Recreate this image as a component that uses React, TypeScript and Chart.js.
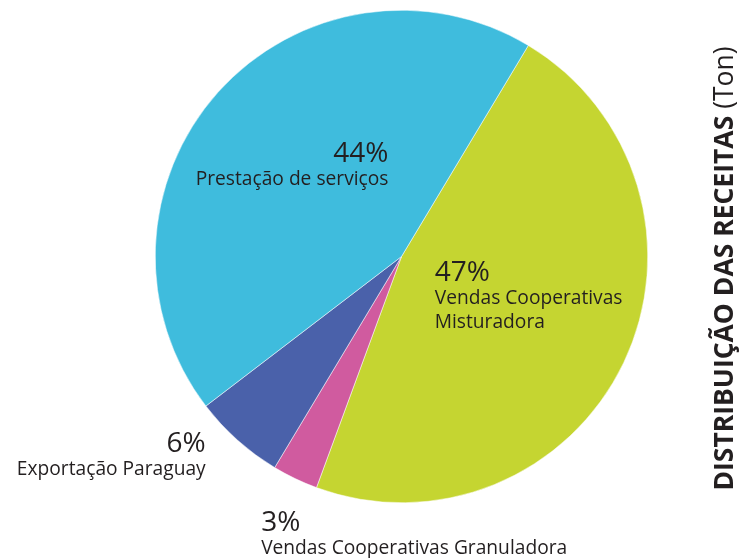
import React, { useEffect, useRef } from "react";
import { Chart, registerables } from "chart.js";

Chart.register(...registerables);

const categories = [
  "Vendas Cooperativas Misturadora",
  "Vendas Cooperativas Granuladora",
  "Exportação Paraguay",
  "Prestação de serviços",
];
const values = [47, 3, 6, 44];
const percentLabels = ["47%", "3%", "6%", "44%"];
const labelLines = [
  ["Vendas Cooperativas", "Misturadora"],
  ["Vendas Cooperativas Granuladora"],
  ["Exportação Paraguay"],
  ["Prestação de serviços"],
];
const colors = ["#C5D531", "#D05B9F", "#4A61AA", "#3FBCDD"];
const titleBold = "DISTRIBUIÇÃO DAS RECEITAS";
const titleRegular = " (Ton)";

// label anchors relative to pie centre, in units of radius: [dx, dy, align]
const labelAnchors: [number, number, CanvasTextAlign][] = [
  [0.135, 0.1, "left"],
  [-0.57, 1.115, "left"],
  [-0.795, 0.795, "right"],
  [-0.053, -0.382, "right"],
];

const FONT = "'Open Sans', 'Noto Sans', sans-serif";

const labelsPlugin = {
  id: "pieLabels",
  afterDraw(chart: any) {
    const ctx = chart.ctx as CanvasRenderingContext2D;
    const meta = chart.getDatasetMeta(0);
    const arc = meta.data[0] as any;
    if (!arc) return;
    const cx = arc.x;
    const cy = arc.y;
    const r = arc.outerRadius;
    ctx.save();
    ctx.fillStyle = "#231F20";
    ctx.textBaseline = "alphabetic";
    labelAnchors.forEach(([dx, dy, align], i) => {
      const x = cx + dx * r;
      const y = cy + dy * r;
      ctx.textAlign = align;
      ctx.font = `400 28px ${FONT}`;
      ctx.fillText(percentLabels[i], x, y);
      ctx.font = `400 19.2px ${FONT}`;
      labelLines[i].forEach((line, j) => {
        ctx.fillText(line, x, y + 23 + j * 24);
      });
    });
    // vertical title on the right
    const tx = chart.width - 6;
    const ty = (chart.chartArea.top + chart.chartArea.bottom) / 2 + 12;
    ctx.translate(tx, ty);
    ctx.rotate(-Math.PI / 2);
    const size = 26.5;
    ctx.font = `700 ${size}px ${FONT}`;
    const wb = ctx.measureText(titleBold).width;
    ctx.font = `400 ${size}px ${FONT}`;
    const wr = ctx.measureText(titleRegular).width;
    const start = -(wb + wr) / 2;
    ctx.textAlign = "left";
    ctx.font = `700 ${size}px ${FONT}`;
    ctx.fillText(titleBold, start, 0);
    ctx.font = `400 ${size}px ${FONT}`;
    ctx.fillText(titleRegular, start + wb, 0);
    ctx.restore();
  },
};

export default function App() {
  const ref = useRef<HTMLCanvasElement>(null);
  useEffect(() => {
    if (!ref.current) return;
    const chart = new Chart(ref.current, {
      type: "pie",
      data: {
        labels: categories,
        datasets: [
          {
            data: values,
            backgroundColor: colors,
            borderWidth: 0.5,
            borderColor: "#ffffff",
          },
        ],
      },
      options: {
        animation: false,
        responsive: false,
        rotation: 31,
        layout: { padding: { top: 10, bottom: 55, left: 155, right: 91 } },
        plugins: {
          legend: { display: false },
          tooltip: { enabled: false },
          title: { display: false },
        },
      },
      plugins: [labelsPlugin],
    });
    return () => chart.destroy();
  }, []);
  return (
    <div style={{ position: "fixed", left: 0, top: 0, width: 739, height: 558, background: "#fff" }}>
      <canvas ref={ref} width={739} height={558} style={{ width: 739, height: 558 }} />
    </div>
  );
}
